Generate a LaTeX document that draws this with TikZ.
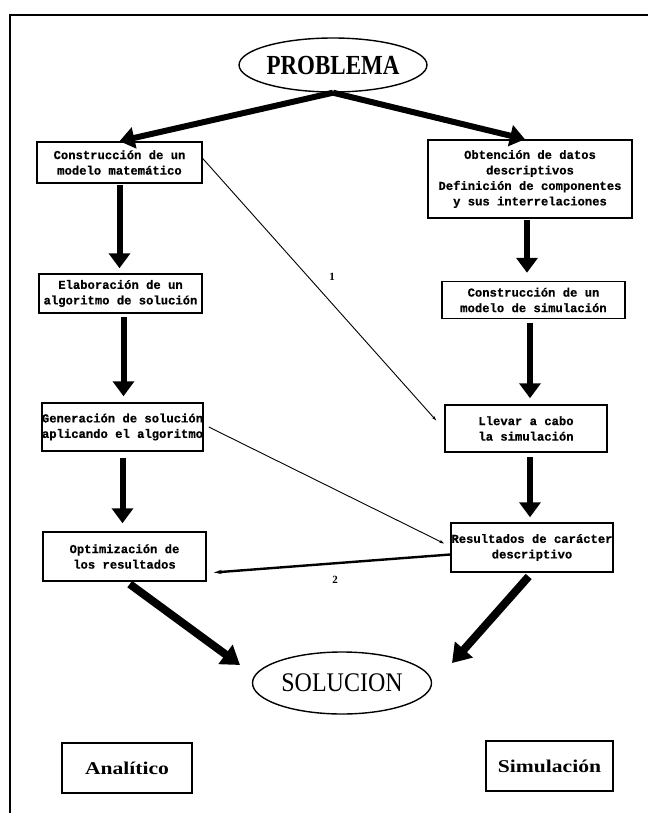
\documentclass[tikz,border=0pt]{standalone}
\usepackage{graphicx}
\usepackage{fontspec}
\setmainfont{Liberation Serif}
\newfontfamily\boxfont{Liberation Mono}[BoldFeatures={FakeBold=0.6}]
\usetikzlibrary{arrows.meta,shapes.geometric}
\begin{document}
\begin{tikzpicture}[x=1pt,y=-1pt,
  stepbox/.style={draw,line width=1.5pt,align=center,inner sep=0pt,
    font=\boxfont\bfseries\fontsize{12.2}{15.5}\selectfont},
  tagbox/.style={draw,line width=1.5pt,inner sep=0pt,
    font=\bfseries\fontsize{18}{20}\selectfont},
  oval/.style={ellipse,draw,line width=1.4pt,inner sep=0pt},
  bigarrow/.style={line width=6pt,-{Triangle[width=21pt,length=15pt]}},
  fatarrow/.style={line width=8pt,-{Triangle[width=23pt,length=18pt]}},
  thinlink/.style={line width=0.9pt,-{Stealth[length=5pt,width=3pt]}},
  boldlink/.style={line width=2.4pt,-{Stealth[length=8pt,width=4pt]}},
  numlabel/.style={font=\bfseries\fontsize{11}{12}\selectfont,inner sep=0pt}
]
\useasboundingbox (0,0) rectangle (648,813);

% frame
\draw[line width=1.5pt] (10,813) -- (10,15) -- (648,15);

% start and end
\node[oval,minimum width=180pt,minimum height=54pt] (P) at (333,65)
  {\bfseries\fontsize{23}{24}\selectfont\scalebox{1}[1.2]{PROBLEMA}};
\node[oval,minimum width=179pt,minimum height=62pt] (S) at (342,683)
  {\fontsize{24}{26}\selectfont\scalebox{1}[1.12]{SOLUCION}};

% analytic branch
\node[stepbox,minimum width=165pt,minimum height=41pt] (A1) at (119.5,162.5)
  {Construcción de un\\modelo matemático};
\node[stepbox,minimum width=163pt,minimum height=39pt] (A2) at (120.5,293.5)
  {Elaboración de un\\algoritmo de solución};
\node[stepbox,minimum width=161pt,minimum height=48pt] (A3) at (122.5,427)
  {Generación de solución\\aplicando el algoritmo};
\node[stepbox,minimum width=163pt,minimum height=49pt] (A4) at (124.5,556.5)
  {Optimización de\\los resultados};

% simulation branch
\node[stepbox,minimum width=204pt,minimum height=78pt] (B1) at (530,179)
  {Obtención de datos\\descriptivos\\Definición de componentes\\y sus interrelaciones};
\node[stepbox,minimum width=183pt,minimum height=37pt] (B2) at (533.5,300)
  {Construcción de un\\modelo de simulación};
\node[stepbox,minimum width=162pt,minimum height=47pt] (B3) at (526,428.5)
  {Llevar a cabo\\la simulación};
\node[stepbox,minimum width=162pt,minimum height=49pt] (B4) at (532,547.5)
  {Resultados de carácter\\descriptivo};

% method tags
\node[tagbox,minimum width=130pt,minimum height=50pt] (AN) at (127,768)
  {\scalebox{1.2}[1]{Analítico}};
\node[tagbox,minimum width=127pt,minimum height=50pt] (SI) at (549.5,766)
  {\scalebox{1.2}[1]{Simulación}};

% main flow
\draw[bigarrow] (P.south) -- (A1.north);
\draw[bigarrow] (P.south) -- ([xshift=-5pt]B1.north);
\draw[bigarrow,shorten <=1pt,shorten >=5pt] (A1.south) -- (A1.south |- A2.north);
\draw[bigarrow,shorten <=3pt,shorten >=6pt] ([xshift=3pt]A2.south) -- ([xshift=3pt]A2.south |- A3.north);
\draw[bigarrow,shorten <=6pt,shorten >=8pt] (A3.south) -- (A3.south |- A4.north);
\draw[bigarrow,shorten <=1pt,shorten >=8pt] ([xshift=-3pt]B1.south) -- ([xshift=-3pt]B1.south |- B2.north);
\draw[bigarrow,shorten <=4pt,shorten >=6pt] ([xshift=-3.5pt]B2.south) -- ([xshift=-3.5pt]B2.south |- B3.north);
\draw[bigarrow,shorten <=4pt,shorten >=5pt] ([xshift=4pt]B3.south) -- ([xshift=4pt]B3.south |- B4.north);
\draw[fatarrow,shorten <=4pt] ([xshift=2pt]A4.south) -- ([xshift=-102pt,yshift=18pt]S.center);
\draw[fatarrow,shorten <=5pt] (B4.south) -- ([xshift=110pt,yshift=20pt]S.center);

% cross links
\draw[thinlink] ([yshift=4pt]A1.east) -- ([xshift=-8pt,yshift=8pt]B3.west);
\draw[thinlink] ([xshift=5pt]A3.east) -- ([xshift=-6pt,yshift=4pt]B4.west);
\draw[boldlink] ([yshift=-7pt]B4.west) -- ([xshift=7pt,yshift=-16pt]A4.east);
\node[numlabel] (n1) at (332,277) {1};
\node[numlabel] (n2) at (335,580) {2};
\end{tikzpicture}
\end{document}
